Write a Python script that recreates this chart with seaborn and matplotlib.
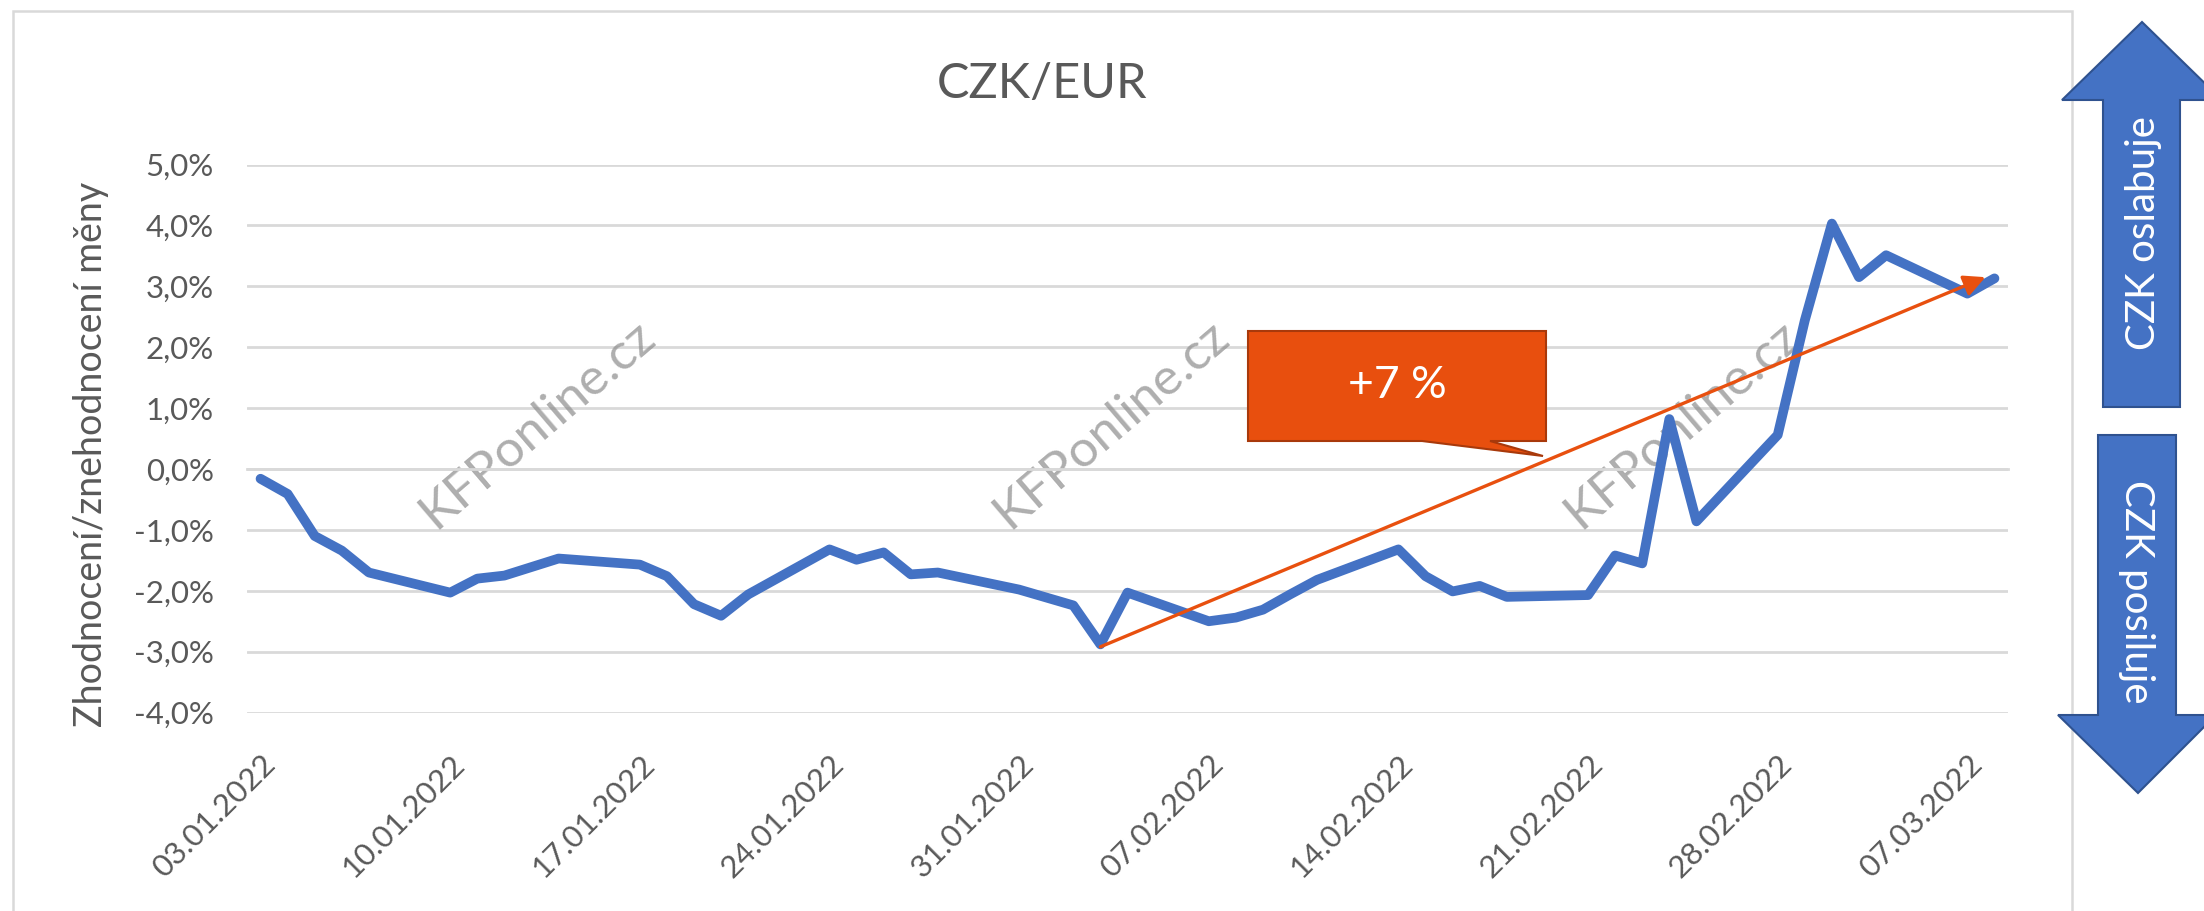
import matplotlib
matplotlib.use("Agg")
import matplotlib.pyplot as plt
import matplotlib.dates as mdates
from matplotlib.patches import Polygon, Rectangle
from matplotlib.transforms import ScaledTranslation
import seaborn as sns
import pandas as pd

# ---------------- data ----------------
dates = [
    "03.01.2022", "04.01.2022", "05.01.2022", "06.01.2022", "07.01.2022",
    "10.01.2022", "11.01.2022", "12.01.2022", "13.01.2022", "14.01.2022",
    "17.01.2022", "18.01.2022", "19.01.2022", "20.01.2022", "21.01.2022",
    "24.01.2022", "25.01.2022", "26.01.2022", "27.01.2022", "28.01.2022",
    "31.01.2022", "01.02.2022", "02.02.2022", "03.02.2022", "04.02.2022",
    "07.02.2022", "08.02.2022", "09.02.2022", "10.02.2022", "11.02.2022",
    "14.02.2022", "15.02.2022", "16.02.2022", "17.02.2022", "18.02.2022",
    "21.02.2022", "22.02.2022", "23.02.2022", "24.02.2022", "25.02.2022",
    "28.02.2022", "01.03.2022", "02.03.2022", "03.03.2022", "04.03.2022",
    "07.03.2022", "08.03.2022",
]
values = [
    -0.16, -0.41, -1.10, -1.34, -1.70,
    -2.03, -1.80, -1.75, -1.61, -1.47,
    -1.57, -1.76, -2.22, -2.41, -2.06,
    -1.32, -1.49, -1.37, -1.73, -1.70,
    -1.98, -2.11, -2.24, -2.88, -2.03,
    -2.50, -2.44, -2.31, -2.06, -1.82,
    -1.32, -1.76, -2.01, -1.92, -2.10,
    -2.07, -1.42, -1.55, 0.82, -0.86,
    0.56, 2.44, 4.03, 3.15, 3.51,
    2.88, 3.13,
]
tick_label_dates = ["03.01.2022", "10.01.2022", "17.01.2022", "24.01.2022", "31.01.2022",
                    "07.02.2022", "14.02.2022", "21.02.2022", "28.02.2022", "07.03.2022"]
y_ticks = [-4, -3, -2, -1, 0, 1, 2, 3, 4, 5]
title = "CZK/EUR"
y_label = "Zhodnocení/znehodnocení měny"
callout_text = "+7 %"
watermark = "KFPonline.cz"
arrow_up_text = "CZK oslabuje"
arrow_down_text = "CZK posiluje"

# ---------------- style ----------------
sns.set_theme(style="white")
plt.rcParams["font.family"] = ["Lato", "DejaVu Sans"]

W, H = 2204, 911
fig = plt.figure(figsize=(W / 100, H / 100), dpi=100)
fig.patch.set_facecolor("white")

def px(x, y):
    return (x / W, 1 - y / H)

ax_l, ax_r, ax_t, ax_b = 247, 2008, 164.5, 712.6
ax = fig.add_axes([ax_l / W, 1 - ax_b / H, (ax_r - ax_l) / W, (ax_b - ax_t) / H])
ax.set_facecolor("none")

df = pd.DataFrame({"date": pd.to_datetime(dates, format="%d.%m.%Y"), "value": values})

GRID = "#D9D9D9"
TXT = "#595959"
BLUE = "#4472C4"
ORANGE = "#E8500F"

sns.lineplot(data=df, x="date", y="value", ax=ax, color=BLUE, linewidth=7,
             solid_joinstyle="round", solid_capstyle="round", zorder=5)
ax.set_xlabel("")

# x range: one-day bins centred on each date
x0 = df["date"].iloc[0] - pd.Timedelta(hours=12)
x1 = df["date"].iloc[-1] + pd.Timedelta(hours=12)
ax.set_xlim(x0, x1)
ax.set_ylim(min(y_ticks), max(y_ticks))

# gridlines
ax.set_yticks(y_ticks)
ax.set_yticklabels([f"{v:.1f}%".replace(".", ",") for v in y_ticks])
ax.yaxis.grid(True, color=GRID, linewidth=2.0)
ax.xaxis.grid(False)
ax.tick_params(axis="y", length=0, pad=24, labelsize=22.5, labelcolor=TXT)

for s in ["left", "right", "top"]:
    ax.spines[s].set_visible(False)
ax.spines["bottom"].set_position(("data", 0))
ax.spines["bottom"].set_color(GRID)
ax.spines["bottom"].set_linewidth(2.0)

label_dt = pd.to_datetime(tick_label_dates, format="%d.%m.%Y")
ax.set_xticks(list(label_dt - pd.Timedelta(hours=12)))
ax.tick_params(axis="x", length=7, width=2, color=GRID, direction="out", labelbottom=False)

# date labels at bottom, rotated
shift = ScaledTranslation(10 / 100, 0, fig.dpi_scale_trans)
for d, lab in zip(label_dt, tick_label_dates):
    ax.text(mdates.date2num(d), -47 / (ax_b - ax_t), lab,
            transform=ax.get_xaxis_transform() + shift,
            rotation=45, ha="right", va="center", rotation_mode="anchor",
            fontsize=22.5, color=TXT)

ax.set_ylabel(y_label, fontsize=27, color=TXT, va="center")
ax.yaxis.set_label_coords((91 - ax_l) / (ax_r - ax_l), (ax_b - 454) / (ax_b - ax_t))

# title
fig.text(*px(1042, 84), title, fontsize=35, color=TXT, ha="center", va="center")

# watermark (behind the line)
for cx in [537, 1111, 1682]:
    ax.text(*px(cx, 424), watermark, transform=fig.transFigure, fontsize=37,
            color="#8c8c8c", alpha=0.7, rotation=40.5, ha="center", va="center",
            rotation_mode="anchor", zorder=2, clip_on=False)

# trend arrow (from minimum to last point)
imin = int(df["value"].idxmin())
start = (mdates.date2num(df["date"].iloc[imin]), df["value"].iloc[imin] - 0.04)
end = (mdates.date2num(df["date"].iloc[-1] - pd.Timedelta(hours=8)), df["value"].iloc[-1] + 0.02)
ax.annotate("", xy=end, xytext=start,
            arrowprops=dict(arrowstyle="-|>", color=ORANGE, lw=2.4, mutation_scale=32,
                            shrinkA=0, shrinkB=0), zorder=6)

# callout
call = [(1248, 331), (1546, 331), (1546, 441), (1490, 441), (1543, 456), (1422, 441), (1248, 441)]
fig.add_artist(Polygon([px(*p) for p in call], closed=True, transform=fig.transFigure,
                       facecolor="#E84F0E", edgecolor="#A8390B", linewidth=1.5, zorder=10))
fig.text(*px(1397, 386), callout_text, fontsize=32, color="white", ha="center", va="center",
         zorder=11)

# chart border
fig.add_artist(Rectangle(px(12.6, 960), (2072 - 12.6) / W, (960 - 10.5) / H,
                         transform=fig.transFigure, fill=False, edgecolor=GRID, linewidth=1.8))

# side arrows
up = [(2142, 22), (2222, 100), (2180, 100), (2180, 407), (2103, 407), (2103, 100), (2062, 100)]
down = [(2098, 435), (2176, 435), (2176, 715), (2216, 715), (2138, 793), (2058, 715), (2098, 715)]
for poly in (up, down):
    fig.add_artist(Polygon([px(*p) for p in poly], closed=True, transform=fig.transFigure,
                           facecolor=BLUE, edgecolor="#2F528F", linewidth=1.5, zorder=10))
fig.text(*px(2143, 233), arrow_up_text, fontsize=29, color="white", rotation=90,
         ha="center", va="center", zorder=11)
fig.text(*px(2136, 592), arrow_down_text, fontsize=29, color="white", rotation=-90,
         ha="center", va="center", zorder=11)

fig.savefig("out.png", dpi=100, facecolor="white")
